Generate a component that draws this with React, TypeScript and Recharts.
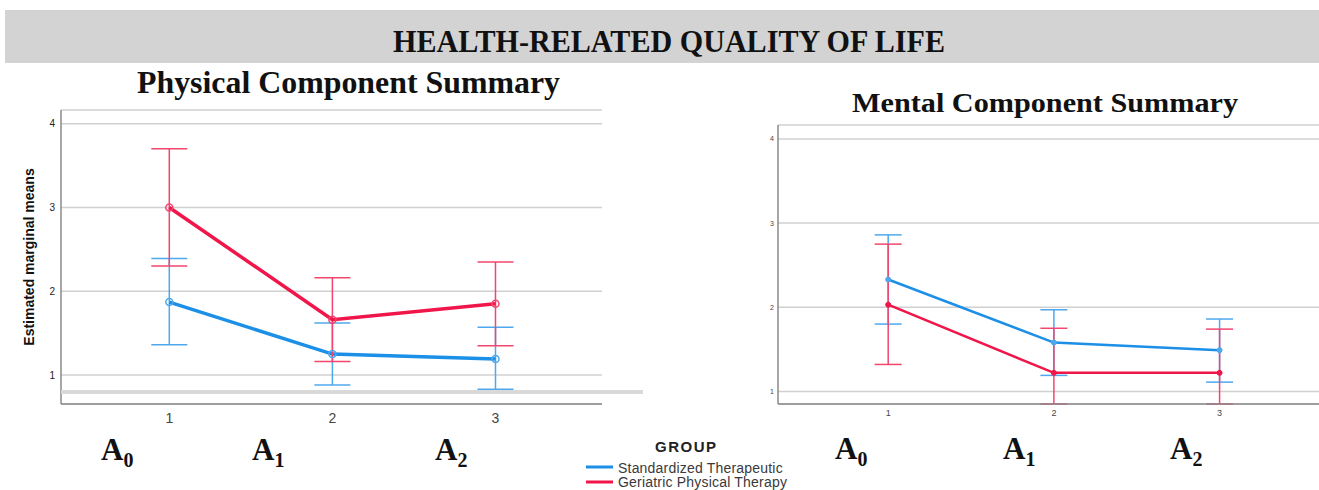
import React from 'react';
import { LineChart, Line, XAxis, YAxis, CartesianGrid, ErrorBar } from 'recharts';

// ---- data ----
const timepoints = [1, 2, 3];
const yTicks = [1, 2, 3, 4];
const groupNames = ['Standardized Therapeutic', 'Geriatric Physical Therapy'];
const phaseLabels = ['0', '1', '2'];

const physStdMean = [1.87, 1.25, 1.19];
const physStdLow = [1.36, 0.88, 0.83];
const physStdHigh = [2.39, 1.62, 1.57];
const physGerMean = [3.0, 1.66, 1.85];
const physGerLow = [2.3, 1.16, 1.35];
const physGerHigh = [3.7, 2.16, 2.35];

const mentStdMean = [2.33, 1.58, 1.49];
const mentStdLow = [1.8, 1.19, 1.11];
const mentStdHigh = [2.86, 1.97, 1.86];
const mentGerMean = [2.03, 1.22, 1.22];
const mentGerLow = [1.32, 0.85, 0.85];
const mentGerHigh = [2.75, 1.75, 1.74];

const BLUE = '#1c8fe6';
const RED = '#f0164a';
const BLUE_EB = '#4ea8ee';
const RED_EB = '#f2466e';
const SANS = '"Liberation Sans", Arial, sans-serif';
const SERIF = '"Liberation Serif", "Times New Roman", serif';

function buildRows(sm: number[], sl: number[], sh: number[], gm: number[], gl: number[], gh: number[]) {
  return timepoints.map((x, i) => ({
    x,
    std: sm[i],
    ger: gm[i],
    stdErr: [sm[i] - sl[i], sh[i] - sm[i]],
    gerErr: [gm[i] - gl[i], gh[i] - gm[i]],
  }));
}

const physRows = buildRows(physStdMean, physStdLow, physStdHigh, physGerMean, physGerLow, physGerHigh);
const mentRows = buildRows(mentStdMean, mentStdLow, mentStdHigh, mentGerMean, mentGerLow, mentGerHigh);

function PhysChart() {
  return (
    <LineChart width={602} height={434} data={physRows} margin={{ top: 110, right: 0, bottom: 0, left: 0 }}>
      <CartesianGrid vertical={false} stroke="#d0d0d0" strokeWidth={1.5} />
      <XAxis
        dataKey="x"
        type="number"
        domain={[0.336, 3.653]}
        ticks={timepoints}
        allowDataOverflow
        height={30}
        tickLine={false}
        tickSize={0}
        tickMargin={9}
        axisLine={{ stroke: '#8a8a8a', strokeWidth: 1.5 }}
        tick={{ fontSize: 14, fill: '#444', fontFamily: SANS }}
      />
      <YAxis
        type="number"
        domain={[0.654, 4.163]}
        ticks={yTicks}
        allowDataOverflow
        width={61}
        tickLine={false}
        tickSize={0}
        tickMargin={6}
        axisLine={{ stroke: '#8a8a8a', strokeWidth: 1.5 }}
        tick={{ fontSize: 10, fill: '#222', fontFamily: SANS }}
      />
      <Line
        dataKey="std"
        stroke={BLUE}
        strokeWidth={3.5}
        isAnimationActive={false}
        dot={{ r: 3.5, fill: 'none', stroke: BLUE_EB, strokeWidth: 1.5 }}
      >
        <ErrorBar dataKey="stdErr" width={18} stroke={BLUE_EB} strokeWidth={1.5} direction="y" />
      </Line>
      <Line
        dataKey="ger"
        stroke={RED}
        strokeWidth={3.5}
        isAnimationActive={false}
        dot={{ r: 3.5, fill: 'none', stroke: RED_EB, strokeWidth: 1.5 }}
      >
        <ErrorBar dataKey="gerErr" width={18} stroke={RED_EB} strokeWidth={1.5} direction="y" />
      </Line>
    </LineChart>
  );
}

function MentChart() {
  return (
    <LineChart width={579} height={434} data={mentRows} margin={{ top: 125, right: 0, bottom: 0, left: 0 }}>
      <CartesianGrid vertical={false} stroke="#d0d0d0" strokeWidth={1.5} />
      <XAxis
        dataKey="x"
        type="number"
        domain={[0.335, 3.6]}
        ticks={timepoints}
        allowDataOverflow
        height={30}
        tickLine={false}
        tickSize={0}
        tickMargin={6}
        axisLine={{ stroke: '#8a8a8a', strokeWidth: 1.5 }}
        tick={{ fontSize: 9, fill: '#444', fontFamily: SANS }}
      />
      <YAxis
        type="number"
        domain={[0.85, 4.166]}
        ticks={yTicks}
        allowDataOverflow
        width={38}
        tickLine={false}
        tickSize={0}
        tickMargin={4}
        axisLine={{ stroke: '#8a8a8a', strokeWidth: 1.5 }}
        tick={{ fontSize: 7, fill: '#444', fontFamily: SANS }}
      />
      <Line
        dataKey="std"
        stroke={BLUE}
        strokeWidth={2.5}
        isAnimationActive={false}
        dot={{ r: 2.5, fill: BLUE_EB, stroke: BLUE_EB, strokeWidth: 1 }}
      >
        <ErrorBar dataKey="stdErr" width={13.5} stroke={BLUE_EB} strokeWidth={1.5} direction="y" />
      </Line>
      <Line
        dataKey="ger"
        stroke={RED}
        strokeWidth={2.5}
        isAnimationActive={false}
        dot={{ r: 2.5, fill: RED, stroke: RED, strokeWidth: 1 }}
      >
        <ErrorBar dataKey="gerErr" width={13.5} stroke={RED_EB} strokeWidth={1.5} direction="y" />
      </Line>
    </LineChart>
  );
}

function PhaseLabel({ x, y, sub }: { x: number; y: number; sub: string }) {
  return (
    <text x={x} y={y} fontFamily={SERIF} fontWeight="bold" fill="#111">
      <tspan fontSize={31}>A</tspan>
      <tspan fontSize={20} dy={7}>{sub}</tspan>
    </text>
  );
}

export default function App() {
  const leftPhaseX = [101, 252, 435];
  const rightPhaseX = [835, 1003, 1170];
  return (
    <div style={{ position: 'fixed', top: 0, left: 0, width: 1319, height: 490, background: '#fff', overflow: 'hidden' }}>
      <svg width={1319} height={490} style={{ position: 'absolute', left: 0, top: 0 }}>
        <rect x={5} y={10} width={1314} height={53} fill="#d3d3d3" />
      </svg>
      <div style={{ position: 'absolute', left: 0, top: 0 }}>
        <PhysChart />
      </div>
      <div style={{ position: 'absolute', left: 740, top: 0 }}>
        <MentChart />
      </div>
      <svg width={1319} height={490} style={{ position: 'absolute', left: 0, top: 0, pointerEvents: 'none' }}>
        <rect x={61} y={390} width={582} height={4} fill="#d9d9d9" />
        <text x={393} y={52} textLength={552} lengthAdjust="spacingAndGlyphs" fontFamily={SERIF} fontWeight="bold" fontSize={32} fill="#111">
          HEALTH-RELATED QUALITY OF LIFE
        </text>
        <text x={137} y={93} textLength={423} lengthAdjust="spacingAndGlyphs" fontFamily={SERIF} fontWeight="bold" fontSize={32} fill="#111">
          Physical Component Summary
        </text>
        <text x={852} y={112} textLength={386} lengthAdjust="spacingAndGlyphs" fontFamily={SERIF} fontWeight="bold" fontSize={28} fill="#111">
          Mental Component Summary
        </text>
        <text
          x={29}
          y={257}
          transform="rotate(-90 29 257)"
          textAnchor="middle"
          dominantBaseline="central"
          fontFamily={SANS}
          fontWeight="bold"
          fontSize={14}
          fill="#111"
        >
          Estimated marginal means
        </text>
        {phaseLabels.map((p, i) => (
          <PhaseLabel key={'l' + i} x={leftPhaseX[i]} y={460} sub={p} />
        ))}
        {phaseLabels.map((p, i) => (
          <PhaseLabel key={'r' + i} x={rightPhaseX[i]} y={459} sub={p} />
        ))}
        <text x={655} y={451.5} fontFamily={SANS} fontWeight="bold" fontSize={15} letterSpacing={1.5} fill="#222">
          GROUP
        </text>
        <rect x={586} y={465.5} width={27} height={3} fill={BLUE} />
        <rect x={586} y={480.5} width={27} height={3} fill={RED} />
        <text x={618} y={473} fontFamily={SANS} fontSize={14} letterSpacing={0.2} fill="#3a3a3a">
          {groupNames[0]}
        </text>
        <text x={618} y={487} fontFamily={SANS} fontSize={14} letterSpacing={0.2} fill="#3a3a3a">
          {groupNames[1]}
        </text>
      </svg>
    </div>
  );
}
